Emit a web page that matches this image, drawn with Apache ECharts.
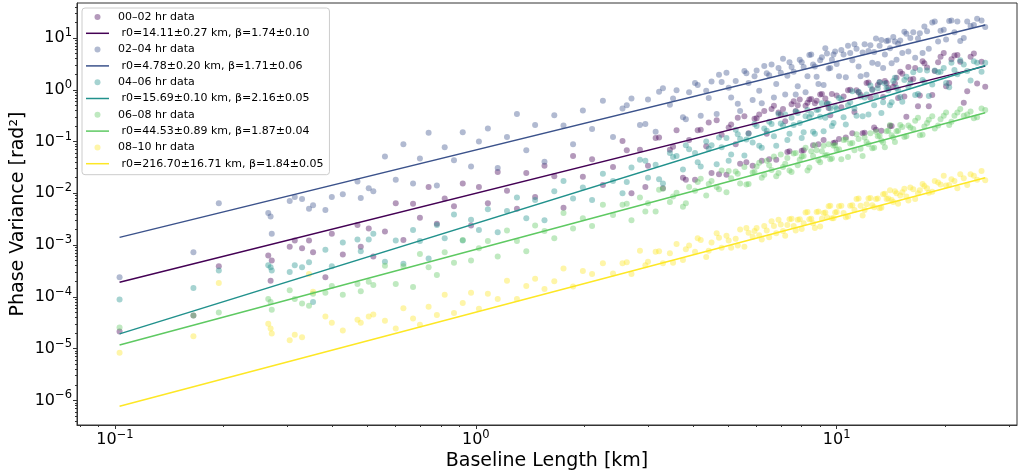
<!DOCTYPE html>
<html><head><meta charset="utf-8">
<script src="https://cdn.jsdelivr.net/npm/echarts@6/dist/echarts.min.js"></script>
<style>html,body{margin:0;padding:0;background:#fff}#c{width:1018px;height:476px}</style>
</head><body><div id="c"></div>
<script>
// Baseline lengths [km] shared by all time bins
const baselinesKm = [
0.103,0.165,0.194,0.266,0.270,0.272,0.305,0.315,0.330,0.345,0.354,0.383,0.399,0.428,0.470,0.480,0.505,0.520,
0.56,0.60,0.63,0.67,0.70,0.74,0.78,0.82,0.87,0.92,0.97,1.02,
1.08,1.15,1.22,1.30,1.38,1.46,1.55,1.65,1.75,1.86,1.98,
2.10,2.25,2.40,2.55,2.70,2.85,3.00,3.15,3.30,3.45,3.60,3.75,3.90,
4.05,4.20,4.35,4.50,4.65,4.80,4.95,5.10,5.25,5.40,5.55,5.70,5.85,
6.00,6.20,6.40,6.60,6.80,7.00,7.20,7.40,7.60,7.80,8.00,8.20,8.40,8.60,8.80,9.00,9.20,9.40,9.60,9.80,
10.0,10.3,10.6,10.9,11.2,11.5,11.8,12.1,12.4,12.7,13.0,13.3,13.6,13.9,14.2,14.5,14.8,
15.2,15.6,16.0,16.5,17.0,17.5,18.0,18.7,19.4,20.1,20.8,21.6,22.5,23.5,24.5,25.8,
2.62,2.95,3.22,3.52,3.82,4.12,4.42,4.72,5.02,5.32,5.62,5.92,
6.1,6.3,6.5,6.7,6.9,7.1,7.3,7.5,7.7,7.9,8.1,8.3,8.5,8.7,8.9,9.1,9.3,9.5,9.7,9.9,
10.15,10.45,10.75,11.05,11.35,11.65,11.95,12.25,12.55,12.85,13.15,13.45,13.75,14.05,14.35,14.65,
15.0,15.4,15.8,16.3,16.8,17.3,17.8,18.4,19.1,19.8,20.5,21.2,22.0,23.0,24.0,25.2];

// Phase variance, read in decades (log10 rad^2), one value per baseline
const log10Var_00_02 = [
-4.67,-4.36,-3.41,-3.20,-3.69,-3.30,-3.03,-2.91,-3.06,-2.91,-3.14,-3.62,-2.78,-3.18,-2.61,-3.03,-2.68,-3.22,
-2.74,-2.19,-2.90,-2.20,-2.47,-1.88,-2.59,-2.10,-2.25,-1.81,-2.62,-1.88,
-2.19,-1.59,-1.95,-2.30,-1.61,-2.07,-1.47,-1.67,-2.28,-1.28,-1.68,
-1.34,-1.84,-1.49,-0.99,-2.00,-1.16,-1.47,-0.93,-1.90,-1.16,-0.78,-1.70,-0.97,
-1.74,-0.77,-1.09,-1.61,-0.59,-0.87,-1.64,-0.67,-1.05,-1.43,-0.51,-0.84,-1.47,
-0.55,-1.37,-0.85,-0.37,-1.35,-0.48,-0.61,-1.19,-0.22,-0.30,-1.18,-0.31,-0.19,-1.07,-0.21,-0.09,-0.97,-0.26,-0.49,-1.03,
-0.11,-0.34,-0.92,0.00,-0.43,-0.05,-0.84,0.13,-0.15,-0.73,0.09,-0.79,0.17,0.04,-0.70,0.12,-0.16,
0.31,-0.52,0.20,0.42,-0.11,0.51,-0.32,0.36,0.64,0.07,0.59,0.67,-0.25,0.64,0.12,0.06,
-1.17,-1.88,-0.92,-1.10,-1.74,-0.78,-0.63,-1.63,-0.73,-0.54,-1.40,-0.56,
-0.48,-0.41,-1.34,-0.31,-0.44,-0.37,-1.20,-0.28,-0.41,-0.19,-1.17,-0.25,-0.18,-0.26,-1.05,-0.08,-0.17,-0.35,-0.08,-1.02,
-0.95,-0.13,-0.01,-0.84,-0.01,-0.10,-0.83,0.14,0.01,-0.77,0.15,-0.14,0.13,-0.70,0.06,0.23,
0.35,-0.13,0.44,0.21,-0.32,0.55,0.43,-0.10,0.53,0.71,0.13,0.66,0.54,-0.03,0.70,0.54];
const log10Var_02_04 = [
-3.62,-3.14,-2.19,-2.38,-2.45,-2.78,-2.15,-2.07,-2.11,-2.30,-2.23,-2.32,-2.07,-2.02,-1.77,-2.09,-1.90,-1.96,
-1.29,-1.74,-1.05,-1.81,-1.33,-0.83,-1.85,-1.11,-1.36,-0.82,-1.48,-1.00,
-0.75,-1.51,-0.91,-0.47,-1.17,-0.68,-1.39,-0.49,-0.69,-1.05,-0.40,
-0.76,-0.21,-0.91,-0.36,-0.17,-0.68,-0.19,-0.81,0.03,-0.29,-0.01,-0.53,-0.05,
0.13,-0.50,-0.02,0.16,-0.47,0.15,0.33,-0.15,0.17,-0.41,0.36,0.13,-0.20,
0.37,-0.26,0.32,0.49,0.11,0.33,-0.09,0.53,0.35,0.07,0.53,-0.05,0.67,0.49,0.25,0.57,0.09,0.70,0.42,0.68,
0.50,0.77,0.24,0.71,0.88,0.45,0.72,0.29,0.86,0.73,0.50,0.96,0.68,0.95,0.51,0.93,0.89,
0.71,1.08,1.00,0.62,1.09,1.22,0.79,1.32,1.14,0.97,1.34,1.32,1.00,1.23,1.37,1.21,
-0.30,-0.66,-0.04,-0.17,-0.57,0.09,-0.16,0.29,0.04,-0.27,0.32,0.26,
-0.02,0.46,0.28,-0.15,0.42,0.60,0.27,0.44,-0.09,0.58,0.44,0.26,0.68,0.45,0.11,0.63,0.80,0.41,0.58,0.74,
0.26,0.68,0.85,0.57,0.79,0.26,0.88,0.75,0.52,0.99,0.85,0.42,0.94,0.80,1.02,0.58,
0.95,1.12,0.74,1.11,0.99,0.71,1.13,1.30,0.93,1.16,1.33,1.11,0.94,1.32,1.25,1.34];
const log10Var_04_06 = [
-4.05,-3.83,-3.49,-3.39,-3.43,-3.49,-3.52,-3.39,-3.43,-3.33,-4.10,-3.09,-3.41,-2.95,-2.89,-3.12,-2.89,-2.78,
-3.32,-2.91,-3.36,-2.71,-2.92,-3.26,-2.61,-2.87,-2.41,-2.91,-2.51,-2.71,
-2.31,-2.75,-2.34,-2.08,-2.48,-2.13,-2.52,-1.96,-1.76,-2.10,-1.89,
-2.13,-1.62,-1.76,-2.00,-1.50,-1.35,-1.70,-1.45,-1.81,-1.22,-1.28,-1.54,-1.15,
-1.22,-1.48,-1.00,-1.07,-1.44,-1.11,-0.93,-1.25,-0.77,-0.95,-1.27,-0.85,-1.02,
-0.70,-1.12,-0.79,-0.66,-1.08,-0.65,-0.48,-0.85,-0.68,-0.45,-0.93,-0.51,-0.53,-0.81,-0.39,-0.52,-0.80,-0.28,-0.36,-0.64,
-0.37,-0.19,-0.67,-0.24,-0.36,-0.04,-0.51,-0.09,0.08,-0.30,0.03,-0.45,0.12,-0.01,-0.24,0.23,0.00,
-0.23,0.25,0.12,-0.10,0.38,0.15,-0.12,0.37,0.35,0.13,0.52,0.30,0.49,0.18,0.52,0.52,
-1.78,-1.37,-1.73,-1.30,-1.07,-1.40,-1.14,-0.92,-1.37,-0.86,-0.96,-0.66,
-1.08,-0.75,-0.62,-0.90,-0.47,-0.69,-0.97,-0.54,-0.42,-0.64,-0.82,-0.39,-0.47,-0.85,-0.38,-0.26,-0.54,-0.27,-0.70,-0.33,
-0.16,-0.53,-0.30,-0.03,-0.50,-0.13,-0.15,-0.48,-0.01,-0.13,0.14,-0.24,0.03,-0.30,0.17,0.04,
-0.14,0.19,0.06,0.34,-0.08,0.19,0.37,0.10,0.34,0.42,0.05,0.38,0.57,0.36,0.55,0.35];
const log10Var_06_08 = [
-4.59,-4.36,-4.30,-4.04,-4.10,-4.25,-3.87,-4.04,-4.13,-4.17,-3.94,-3.92,-3.79,-3.96,-3.75,-3.89,-3.71,-3.77,
-3.40,-3.75,-3.41,-3.81,-3.17,-3.43,-3.58,-3.14,-3.34,-2.90,-3.30,-3.06,
-2.92,-3.22,-2.72,-2.92,-3.12,-2.62,-2.73,-2.87,-2.38,-2.68,-2.48,
-2.63,-2.22,-2.42,-2.22,-2.52,-2.08,-2.19,-2.35,-1.91,-2.17,-1.99,-2.26,-1.88,
-1.95,-1.72,-2.04,-1.76,-1.88,-1.56,-1.98,-1.71,-1.58,-1.81,-1.49,-1.82,-1.60,
-1.48,-1.70,-1.37,-1.55,-1.67,-1.25,-1.43,-1.56,-1.23,-1.46,-1.29,-1.12,-1.50,-1.28,-1.17,-1.40,-1.08,-1.26,-1.34,-1.08,
-1.16,-1.34,-0.96,-1.04,-1.17,-0.95,-1.28,-1.01,-0.84,-1.12,-0.90,-0.98,-1.11,-0.79,-0.88,-1.01,-0.79,
-0.72,-0.90,-0.73,-0.60,-0.88,-0.71,-0.58,-0.75,-0.57,-0.44,-0.62,-0.44,-0.50,-0.42,-0.53,-0.39,
-2.20,-2.35,-1.93,-2.06,-2.19,-1.78,-1.82,-1.92,-1.57,-1.62,-1.83,-1.59,
-1.41,-1.64,-1.46,-1.29,-1.61,-1.49,-1.32,-1.59,-1.22,-1.35,-1.28,-1.56,-1.19,-1.07,-1.36,-1.19,-1.27,-1.05,-1.33,-1.07,
-1.15,-0.97,-1.30,-1.03,-0.86,-1.14,-0.92,-1.05,-1.13,-0.81,-0.89,-1.02,-0.80,-0.68,-0.92,-0.80,
-0.68,-0.91,-0.69,-0.76,-0.54,-0.87,-0.64,-0.51,-0.69,-0.50,-0.68,-0.50,-0.37,-0.48,-0.55,-0.36];
const log10Var_08_10 = [
-5.08,-4.76,-3.73,-4.52,-4.61,-4.71,-4.84,-4.73,-4.78,-3.56,-3.90,-4.38,-4.50,-4.65,-4.44,-4.50,-4.38,-4.34,
-4.46,-4.61,-4.22,-4.42,-4.54,-4.19,-4.35,-3.96,-4.31,-4.12,-3.92,-4.23,
-3.94,-4.04,-3.69,-4.04,-3.79,-3.65,-3.85,-3.70,-3.45,-3.80,-3.50,
-3.56,-3.35,-3.55,-3.35,-3.56,-3.11,-3.32,-3.13,-3.35,-3.16,-2.98,-3.29,-3.01,
-3.13,-2.90,-3.23,-2.95,-2.77,-3.05,-2.82,-3.05,-2.88,-2.70,-3.03,-2.76,-2.84,
-2.67,-2.89,-2.72,-2.54,-2.77,-2.60,-2.82,-2.50,-2.63,-2.51,-2.69,-2.37,-2.50,-2.58,-2.36,-2.64,-2.38,-2.46,-2.24,-2.48,
-2.36,-2.24,-2.46,-2.24,-2.32,-2.10,-2.43,-2.21,-2.09,-2.27,-2.10,-2.28,-2.01,-2.10,-2.13,-1.96,-2.20,
-1.98,-2.06,-1.89,-2.11,-1.94,-1.86,-1.99,-1.76,-1.83,-1.85,-1.73,-1.90,-1.71,-1.63,-1.74,-1.75,
-3.33,-3.39,-3.12,-3.34,-3.08,-2.87,-3.11,-2.86,-2.91,-3.01,-2.67,-2.73,
-2.81,-2.63,-2.85,-2.63,-2.51,-2.73,-2.61,-2.49,-2.72,-2.50,-2.58,-2.36,-2.49,-2.67,-2.35,-2.49,-2.37,-2.25,-2.48,-2.37,
-2.25,-2.38,-2.45,-2.23,-2.11,-2.24,-2.32,-2.10,-2.23,-2.11,-2.29,-2.02,-2.11,-1.94,-2.17,-2.00,
-2.04,-1.91,-2.14,-1.92,-2.00,-1.82,-1.90,-1.97,-1.79,-1.66,-1.84,-1.76,-1.63,-1.84,-1.66,-1.57];

// Fitted power-law lines: end points [km] and values [rad^2]
const fitX = [0.103, 25.8];
const fit_00_02 = [1.91e-4, 2.86];
const fit_02_04 = [1.41e-3, 17.9];
const fit_04_06 = [1.93e-5, 2.93];
const fit_06_08 = [1.18e-5, 0.360];
const fit_08_10 = [7.69e-7, 0.0199];

const dataNames = ['00–02 hr data','02–04 hr data','04–06 hr data','06–08 hr data','08–10 hr data'];
const fitNames = [' r0=14.11±0.27 km, β=1.74±0.10',' r0=4.78±0.20 km, β=1.71±0.06',' r0=15.69±0.10 km, β=2.16±0.05',' r0=44.53±0.89 km, β=1.87±0.04',' r0=216.70±16.71 km, β=1.84±0.05'];
const colors = ['#440154','#3b528b','#21918c','#5ec962','#fde725'];
const pointColors = ['rgba(68,1,84,0.5)','rgba(59,82,139,0.5)','rgba(33,145,140,0.5)','rgba(94,201,98,0.5)','rgba(253,231,37,0.5)'];

const xMajorTicks = [0.1, 1, 10];
const xMinorTicks = [0.08,0.09,0.2,0.3,0.4,0.5,0.6,0.7,0.8,0.9,2,3,4,5,6,7,8,9,20,30];
const yMajorTicks = [1e-6,1e-5,1e-4,1e-3,1e-2,1e-1,1,10];
const yMinorTicks = [4e-7,5e-7,6e-7,7e-7,8e-7,9e-7,
 2e-6,3e-6,4e-6,5e-6,6e-6,7e-6,8e-6,9e-6, 2e-5,3e-5,4e-5,5e-5,6e-5,7e-5,8e-5,9e-5,
 2e-4,3e-4,4e-4,5e-4,6e-4,7e-4,8e-4,9e-4, 2e-3,3e-3,4e-3,5e-3,6e-3,7e-3,8e-3,9e-3,
 2e-2,3e-2,4e-2,5e-2,6e-2,7e-2,8e-2,9e-2, 0.2,0.3,0.4,0.5,0.6,0.7,0.8,0.9,
 2,3,4,5,6,7,8,9,20,30,40];

const X_MIN = 0.0785, X_MAX = 31.6, Y_MIN = 3.35e-7, Y_MAX = 47.4;
const FONT = 'DejaVu Sans';

const logSeries = [log10Var_00_02, log10Var_02_04, log10Var_04_06, log10Var_06_08, log10Var_08_10];
const fitSeries = [fit_00_02, fit_02_04, fit_04_06, fit_06_08, fit_08_10];

function powLabel(v) {
  const e = Math.round(Math.log10(v));
  const s = e < 0 ? '−' + (-e) : String(e);
  return '{b|10}{s|' + s + '}';
}
const richLabel = {
  b: {fontFamily: FONT, fontSize: 16, color: '#000', lineHeight: 22},
  s: {fontFamily: FONT, fontSize: 11.5, color: '#000', lineHeight: 12, verticalAlign: 'top'}
};

const series = [];
const legendData = [];
for (let k = 0; k < 5; k++) {
  series.push({
    name: dataNames[k], type: 'scatter', xAxisIndex: 0, yAxisIndex: 0,
    symbol: 'circle', symbolSize: 6,
    itemStyle: {color: pointColors[k]},
    data: baselinesKm.map((x, i) => [x, Math.pow(10, logSeries[k][i])]),
    silent: true, animation: false
  });
  series.push({
    name: fitNames[k], type: 'line', xAxisIndex: 0, yAxisIndex: 0,
    symbol: 'none', showSymbol: false,
    lineStyle: {color: colors[k], width: 1.5},
    itemStyle: {color: colors[k]},
    data: fitX.map((x, i) => [x, fitSeries[k][i]]),
    silent: true, animation: false
  });
  legendData.push({name: dataNames[k], icon: 'circle'});
  legendData.push({name: fitNames[k], icon: 'path://M0,0 L23,0 L23,1.5 L0,1.5 Z'});
}

const axisColor = '#333';
const option = {
  backgroundColor: '#fff',
  animation: false,
  grid: {left: 77, right: 1, top: 3, bottom: 47, show: true, borderColor: axisColor, borderWidth: 1, containLabel: false},
  legend: {
    left: 82, top: 8, orient: 'vertical', selectedMode: false,
    padding: [2, 6, 4, 4], itemGap: 2.3, itemWidth: 23, itemHeight: 6,
    borderColor: '#cccccc', borderWidth: 1, borderRadius: 3, backgroundColor: 'rgba(255,255,255,0.8)',
    textStyle: {fontFamily: FONT, fontSize: 11, color: '#000', lineHeight: 14, padding: [0, 0, 0, 4]},
    data: legendData
  },
  xAxis: [{
    type: 'log', logBase: 10, min: X_MIN, max: X_MAX, position: 'bottom',
    name: 'Baseline Length [km]', nameLocation: 'middle', nameGap: 27, nameMoveOverlap: false,
    nameTextStyle: {fontFamily: FONT, fontSize: 19, color: '#000'},
    axisLine: {show: true, lineStyle: {color: axisColor, width: 1}},
    axisTick: {show: true, customValues: xMajorTicks, length: 4, lineStyle: {color: axisColor}},
    axisLabel: {customValues: xMajorTicks, formatter: powLabel, rich: richLabel, margin: 4},
    splitLine: {show: false}
  }, {
    type: 'log', logBase: 10, min: X_MIN, max: X_MAX, position: 'bottom', gridIndex: 0,
    axisLine: {show: false},
    axisTick: {show: true, customValues: xMinorTicks, length: 2, lineStyle: {color: axisColor}},
    axisLabel: {show: false}, splitLine: {show: false}
  }],
  yAxis: [{
    type: 'log', logBase: 10, min: Y_MIN, max: Y_MAX, position: 'left',
    name: 'Phase Variance [rad²]', nameLocation: 'middle', nameGap: 49, nameRotate: 90, nameMoveOverlap: false,
    nameTextStyle: {fontFamily: FONT, fontSize: 19, color: '#000'},
    axisLine: {show: true, lineStyle: {color: axisColor, width: 1}},
    axisTick: {show: true, customValues: yMajorTicks, length: 4, lineStyle: {color: axisColor}},
    axisLabel: {customValues: yMajorTicks, formatter: powLabel, rich: richLabel, margin: 5},
    splitLine: {show: false}
  }, {
    type: 'log', logBase: 10, min: Y_MIN, max: Y_MAX, position: 'left', gridIndex: 0,
    axisLine: {show: false},
    axisTick: {show: true, customValues: yMinorTicks, length: 2, lineStyle: {color: axisColor}},
    axisLabel: {show: false}, splitLine: {show: false}
  }],
  series: series
};
const chart = echarts.init(document.getElementById('c'), null, {renderer: 'canvas'});
chart.setOption(option);
</script>
</body></html>
